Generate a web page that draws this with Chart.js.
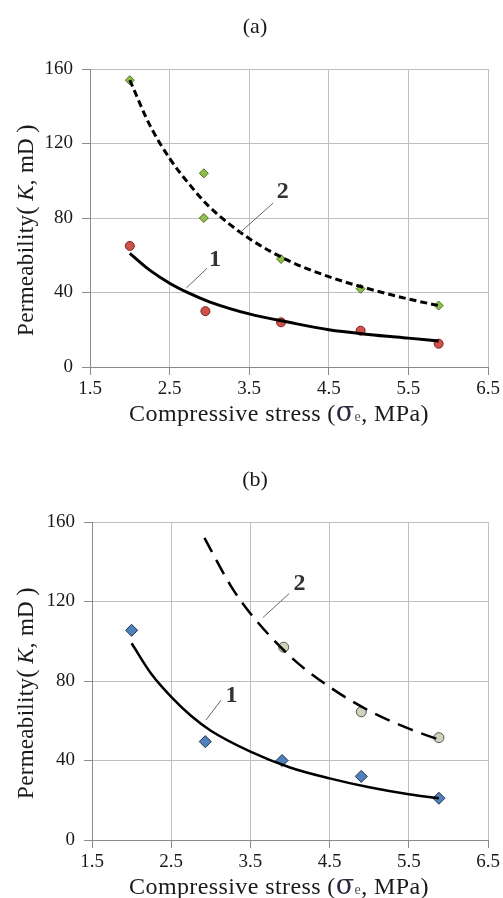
<!DOCTYPE html>
<html>
<head>
<meta charset="utf-8">
<script src="https://cdn.jsdelivr.net/npm/chart.js@4/dist/chart.umd.min.js"></script>
<style>
  html, body { margin: 0; padding: 0; background: #ffffff; }
  #wrap { position: relative; width: 503px; height: 898px; }
  canvas { position: absolute; left: 0; }
</style>
</head>
<body>
<div id="wrap">
  <canvas id="chartA" width="503" height="450" style="top:0"></canvas>
  <canvas id="chartB" width="503" height="448" style="top:450px"></canvas>
</div>
<script>
// ---------- DATA ----------
const xTicks = [1.5, 2.5, 3.5, 4.5, 5.5, 6.5];
const yTicks = [0, 40, 80, 120, 160];

// (a) measured points
const aStress1 = [2.0, 2.95, 3.9, 4.9, 5.88];
const aPerm1   = [65, 30, 24, 19.5, 12.5];
const aStress2 = [2.0, 2.93, 2.93, 3.9, 4.9, 5.88];
const aPerm2   = [154, 104, 80, 58, 42, 33];
// (a) fitted curves
const aFitStress = [2.0, 2.25, 2.5, 2.75, 3.0, 3.5, 4.0, 4.5, 5.0, 5.5, 5.88];
const aFit1      = [61, 52, 45, 39.5, 35, 28.5, 24, 20, 17.5, 15.5, 14];
const aFit2      = [154, 130, 112, 98, 86, 69, 57, 48.5, 42, 36.5, 33];

// (b) measured points
const bStress1 = [2.0, 2.93, 3.9, 4.9, 5.88];
const bPerm1   = [105.5, 49.5, 40, 32, 21];
const bStress2 = [3.92, 4.9, 5.88];
const bPerm2   = [97, 64.5, 51.5];
// (b) fitted curves
const bFitStress1 = [2.0, 2.25, 2.5, 2.75, 3.0, 3.5, 4.0, 4.5, 5.0, 5.5, 5.88];
const bFit1       = [99, 83.5, 72, 62.5, 55, 44.5, 36.5, 31, 26.5, 23, 21];
const bFitStress2 = [2.92, 3.0, 3.25, 3.5, 4.0, 4.5, 5.0, 5.5, 5.88];
const bFit2       = [152, 146, 128, 114, 92.5, 77, 65, 56, 50.5];

// ---------- HELPERS ----------
const SERIF = "'Liberation Serif', 'Times New Roman', serif";
const zip = (xs, ys) => xs.map((x, i) => ({ x: x, y: ys[i] }));

function drawRich(ctx, segs, cx, cy) {
  let total = 0;
  segs.forEach(s => { ctx.font = s.font; s.w = ctx.measureText(s.t).width; total += s.w; });
  let x = cx - total / 2;
  segs.forEach(s => {
    ctx.font = s.font;
    ctx.fillStyle = s.color || '#1a1a1a';
    ctx.fillText(s.t, x, cy + (s.dy || 0));
    x += s.w;
  });
}

const decorPlugin = {
  id: 'decor',
  afterDraw(chart, args, opts) {
    const ctx = chart.ctx;
    const ca = chart.chartArea;
    const xs = chart.scales.x, ys = chart.scales.y;
    ctx.save();
    // panel title
    ctx.textAlign = 'center';
    ctx.textBaseline = 'middle';
    ctx.font = '22px ' + SERIF;
    ctx.fillStyle = '#1a1a1a';
    ctx.fillText(opts.title, 255, opts.titleY);

    // x axis title
    ctx.textAlign = 'left';
    ctx.textBaseline = 'alphabetic';
    ctx.letterSpacing = '0.4px';
    const f = '24px ' + SERIF;
    drawRich(ctx, [
      { t: 'Compressive stress (', font: f },
      { t: 'σ', font: '27px "DejaVu Serif", serif', color: '#2a2a40' },
      { t: 'e', font: '14px ' + SERIF, color: '#555' },
      { t: ', MPa)', font: f }
    ], 279, ca.bottom + 54);

    // y axis title (rotated)
    ctx.save();
    ctx.letterSpacing = '0.3px';
    ctx.translate(27, (ca.top + ca.bottom) / 2 + 12);
    ctx.rotate(-Math.PI / 2);
    ctx.textBaseline = 'middle';
    const fy = '23px ' + SERIF;
    drawRich(ctx, [
      { t: 'Permeability', font: fy },
      { t: '(\u2009', font: '25px ' + SERIF },
      { t: 'K', font: 'italic 23px ' + SERIF },
      { t: ', mD', font: fy },
      { t: '\u2009)', font: '25px ' + SERIF }
    ], 0, 0);
    ctx.restore();

    // curve labels with leader lines
    ctx.letterSpacing = '0px';
    opts.labels.forEach(l => {
      ctx.strokeStyle = '#666';
      ctx.lineWidth = 1;
      ctx.beginPath();
      ctx.moveTo(xs.getPixelForValue(l.from[0]), ys.getPixelForValue(l.from[1]));
      ctx.lineTo(xs.getPixelForValue(l.to[0]), ys.getPixelForValue(l.to[1]));
      ctx.stroke();
      ctx.font = 'bold 24px ' + SERIF;
      ctx.fillStyle = '#333';
      ctx.textAlign = 'center';
      ctx.textBaseline = 'middle';
      ctx.fillText(l.text, xs.getPixelForValue(l.at[0]), ys.getPixelForValue(l.at[1]));
    });
    ctx.restore();
  }
};

function makeChart(id, cfg) {
  return new Chart(document.getElementById(id), {
    type: 'scatter',
    data: { datasets: cfg.datasets },
    options: {
      responsive: false,
      animation: false,
      events: [],
      layout: { padding: { top: cfg.top, right: 15, left: 0, bottom: 0 } },
      plugins: {
        legend: { display: false },
        tooltip: { enabled: false },
        decor: { title: cfg.title, titleY: cfg.titleY, labels: cfg.labels }
      },
      scales: {
        x: {
          type: 'linear', min: 1.5, max: 6.5,
          afterBuildTicks: s => { s.ticks = xTicks.map(v => ({ value: v })); },
          afterFit: s => { s.height = cfg.xAxisH; },
          grid: { color: '#c0c0c0', lineWidth: 1, tickLength: 8, drawTicks: true, tickColor: '#8a8a8a' },
          border: { color: '#8a8a8a', width: 1 },
          ticks: { font: { family: SERIF, size: 19 }, color: '#1a1a1a', padding: 3,
                   maxRotation: 0, callback: v => Number(v).toFixed(1) }
        },
        y: {
          type: 'linear', min: 0, max: 160,
          afterBuildTicks: s => { s.ticks = yTicks.map(v => ({ value: v })); },
          afterFit: s => { s.width = cfg.yAxisW; },
          grid: { color: '#c0c0c0', lineWidth: 1, tickLength: 8, drawTicks: true, tickColor: '#8a8a8a' },
          border: { color: '#8a8a8a', width: 1 },
          ticks: { font: { family: SERIF, size: 19 }, color: '#1a1a1a', padding: 9 }
        }
      }
    },
    plugins: [decorPlugin]
  });
}

// ---------- CHART (a) ----------
makeChart('chartA', {
  title: '(a)', titleY: 27, top: 69, xAxisH: 83, yAxisW: 90,
  labels: [
    { text: '2', at: [3.92, 94], from: [3.80, 88], to: [3.38, 72] },
    { text: '1', at: [3.07, 57.5], from: [2.97, 53], to: [2.71, 42.4] }
  ],
  datasets: [
    { data: zip(aStress1, aPerm1), pointStyle: 'circle', pointRadius: 4.5,
      backgroundColor: '#d0504a', borderColor: '#7a2420', borderWidth: 1, order: 3 },
    { data: zip(aStress2, aPerm2), pointStyle: 'rectRot', pointRadius: 4.5,
      backgroundColor: '#8fc04c', borderColor: '#4e6e22', borderWidth: 1, order: 3 },
    { data: zip(aFitStress, aFit1), showLine: true, pointRadius: 0, borderColor: '#000',
      borderWidth: 3, cubicInterpolationMode: 'monotone', order: 1 },
    { data: zip(aFitStress, aFit2), showLine: true, pointRadius: 0, borderColor: '#000',
      borderWidth: 3, borderDash: [7, 4], cubicInterpolationMode: 'monotone', order: 1 }
  ]
});

// ---------- CHART (b) ----------
makeChart('chartB', {
  title: '(b)', titleY: 30, top: 72, xAxisH: 58, yAxisW: 92,
  labels: [
    { text: '2', at: [4.12, 129], from: [3.99, 124], to: [3.66, 112] },
    { text: '1', at: [3.26, 72.5], from: [3.13, 70.4], to: [2.94, 60.4] }
  ],
  datasets: [
    { data: zip(bStress1, bPerm1), pointStyle: 'rectRot', pointRadius: 6,
      backgroundColor: '#4f81bd', borderColor: '#1c2f4a', borderWidth: 1, order: 3 },
    { data: zip(bStress2, bPerm2), pointStyle: 'circle', pointRadius: 5,
      backgroundColor: '#d2d2bc', borderColor: '#555', borderWidth: 1, order: 3 },
    { data: zip(bFitStress1, bFit1), showLine: true, pointRadius: 0, borderColor: '#000',
      borderWidth: 2.5, cubicInterpolationMode: 'monotone', order: 1 },
    { data: zip(bFitStress2, bFit2), showLine: true, pointRadius: 0, borderColor: '#000',
      borderWidth: 2.5, borderDash: [16, 9], cubicInterpolationMode: 'monotone', order: 1 }
  ]
});
</script>
</body>
</html>
